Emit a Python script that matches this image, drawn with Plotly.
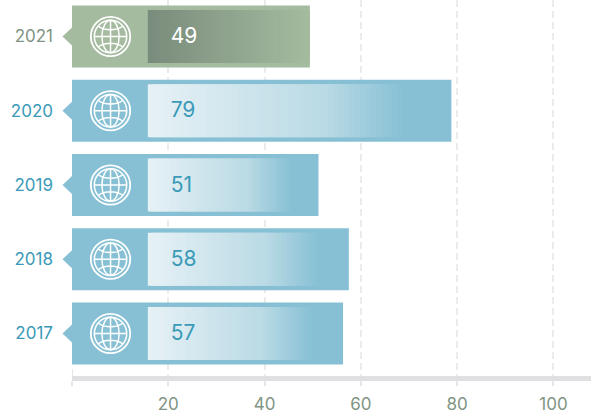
import numpy as np
import plotly.graph_objects as go

years = ["2017", "2018", "2019", "2020", "2021"]
values = [57, 58, 51, 79, 49]
bar_values = [56.3, 57.5, 51.2, 78.8, 49.4]
fade_ends = [49.8, 51, 45.5, 68.6, 49.4]
fade_start = 15.75
x_ticks = [20, 40, 60, 80, 100]

BLUE = "#87c0d4"
GREEN = "#a4bb9f"
bar_colors = [BLUE, BLUE, BLUE, BLUE, GREEN]
label_colors = ["#3a9ab8", "#3a9ab8", "#3a9ab8", "#3a9ab8", "#7f9484"]
value_colors = ["#3a9ab8", "#3a9ab8", "#3a9ab8", "#3a9ab8", "#ffffff"]
ramps = {
    BLUE: [(0, (230, 241, 245)), (0.7, (186, 218, 229)), (1, (137, 193, 213))],
    GREEN: [(0, (122, 140, 124)), (1, (164, 187, 159))],
}
FONT = "Inter, Roboto, sans-serif"
STEPS = 48

def ramp_color(stops, t):
    xs = [s[0] for s in stops]
    rgb = [np.interp(t, xs, [s[1][i] for s in stops]) for i in range(3)]
    return "rgb(%d,%d,%d)" % tuple(int(round(c)) for c in rgb)

ypos = list(range(len(years)))
fig = go.Figure()
fig.add_trace(go.Bar(x=bar_values, y=ypos, orientation="h", width=62 / 74.25,
                     marker=dict(color=bar_colors, line_width=0), hoverinfo="skip"))

seg_x, seg_y, seg_c, seg_b = [], [], [], []
for i, end in enumerate(fade_ends):
    step = (end - fade_start) / STEPS
    for k in range(STEPS):
        t = k / (STEPS - 1)
        start = fade_start + step * k
        seg_b.append(start)
        seg_x.append(min(2 * step, end - start))
        seg_y.append(i)
        seg_c.append(ramp_color(ramps[bar_colors[i]], t))
fig.add_trace(go.Bar(x=seg_x, y=seg_y, base=seg_b, orientation="h", width=53 / 74.25,
                     marker=dict(color=seg_c, line_width=0), hoverinfo="skip"))

fig.add_trace(go.Scatter(x=[20.5] * len(values), y=[p - 0.02 for p in ypos], mode="text",
                         text=[str(v) for v in values],
                         textfont=dict(family=FONT, size=21, color=value_colors),
                         textposition="middle right", hoverinfo="skip"))

def circle(r):
    k = 0.5523 * r
    return (f"M {-r} 0 C {-r} {-k} {-k} {-r} 0 {-r} C {k} {-r} {r} {-k} {r} 0 "
            f"C {r} {k} {k} {r} 0 {r} C {-k} {r} {-r} {k} {-r} 0 Z")

def ellipse(rx, ry):
    kx, ky = 0.5523 * rx, 0.5523 * ry
    return (f"M {-rx} 0 C {-rx} {-ky} {-kx} {-ry} 0 {-ry} C {kx} {-ry} {rx} {-ky} {rx} 0 "
            f"C {rx} {ky} {kx} {ry} 0 {ry} C {-kx} {ry} {-rx} {ky} {-rx} 0 Z")

R = 16.2
globe_lines = " ".join([
    ellipse(8.6, R),
    f"M 0 {-R} L 0 {R}",
    f"M {-R} 0 L {R} 0",
    f"M -12.5 -10.5 C -6 -5.5 6 -5.5 12.5 -10.5",
    f"M -12.5 10.5 C -6 5.5 6 5.5 12.5 10.5",
])

shapes = []
for i, col in zip(ypos, bar_colors):
    common = dict(type="path", xsizemode="pixel", ysizemode="pixel", yref="y", yanchor=i)
    shapes.append(dict(common, xref="paper", xanchor=0, layer="above",
                       path="M 0 -9 L -9.5 0 L 0 9 Z", fillcolor=col, line_width=0))
    shapes.append(dict(common, xref="x", xanchor=8, layer="above",
                       path=circle(19.7), line=dict(color="white", width=1.8)))
    shapes.append(dict(common, xref="x", xanchor=8, layer="above",
                       path=circle(R), line=dict(color="white", width=1.5)))
    shapes.append(dict(common, xref="x", xanchor=8, layer="above",
                       path=globe_lines, line=dict(color="white", width=1.5)))
shapes.append(dict(type="line", xref="x", yref="y", x0=0, x1=0, y0=-0.478, y1=-0.572,
                   line=dict(color="#e6e6e6", width=2), layer="below"))

fig.update_layout(
    width=591, height=416, autosize=False,
    margin=dict(l=71.5, r=0, t=0, b=40),
    paper_bgcolor="white", plot_bgcolor="white",
    barmode="overlay", showlegend=False, shapes=shapes,
    xaxis=dict(range=[0, 107.8], tickmode="array", tickvals=[0] + x_ticks,
               ticktext=[""] + [str(t) for t in x_ticks],
               showgrid=True, gridcolor="#ebebeb", gridwidth=2, griddash="7px,4px",
               zeroline=False, showline=True, linecolor="#e0e0e2", linewidth=5,
               ticks="outside", ticklen=5, tickwidth=2, tickcolor="#e6e6e6", ticklabelstandoff=4,
               tickfont=dict(family=FONT, size=17, color="#7f9484")),
    yaxis=dict(range=[-0.5724, 4.4916], tickmode="array", tickvals=ypos,
               ticktext=[f'<span style="color:{c}">{y}</span>' for y, c in zip(years, label_colors)],
               showgrid=False, zeroline=False, showline=False, ticks="", ticklabelstandoff=18,
               tickfont=dict(family=FONT, size=17, color="#3a9ab8")),
)
fig.write_html("out.html", config={"displayModeBar": False},
               post_script="document.body.style.margin='0';document.documentElement.style.overflow='hidden';")
